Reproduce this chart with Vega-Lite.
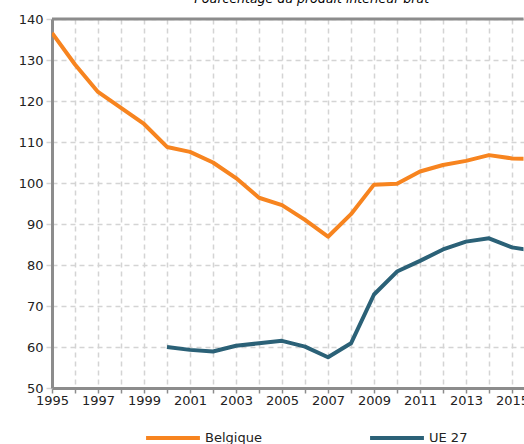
{
  "$schema": "https://vega.github.io/schema/vega-lite/v6.json",
  "autosize": {"type": "none"},
  "padding": {"left": 52, "top": 19, "right": 0, "bottom": 56},
  "width": 471.5,
  "height": 369,
  "title": {
    "text": "Pourcentage du produit intérieur brut",
    "font": "DejaVu Sans",
    "fontStyle": "italic",
    "fontWeight": "normal",
    "fontSize": 12.5,
    "color": "#000000",
    "anchor": "middle",
    "dx": 24,
    "dy": 4.5,
    "offset": 2,
    "baseline": "alphabetic"
  },
  "config": {
    "view": {"stroke": null},
    "font": "DejaVu Sans"
  },
  "data": {
    "values": [
      {"year": 1995, "series": "Belgique", "value": 136.6},
      {"year": 1996, "series": "Belgique", "value": 128.9},
      {"year": 1997, "series": "Belgique", "value": 122.2},
      {"year": 1998, "series": "Belgique", "value": 118.3},
      {"year": 1999, "series": "Belgique", "value": 114.4},
      {"year": 2000, "series": "Belgique", "value": 108.8},
      {"year": 2001, "series": "Belgique", "value": 107.6},
      {"year": 2002, "series": "Belgique", "value": 105.0},
      {"year": 2003, "series": "Belgique", "value": 101.2},
      {"year": 2004, "series": "Belgique", "value": 96.4},
      {"year": 2005, "series": "Belgique", "value": 94.6},
      {"year": 2006, "series": "Belgique", "value": 91.0},
      {"year": 2007, "series": "Belgique", "value": 86.9},
      {"year": 2008, "series": "Belgique", "value": 92.4},
      {"year": 2009, "series": "Belgique", "value": 99.6},
      {"year": 2010, "series": "Belgique", "value": 99.8},
      {"year": 2011, "series": "Belgique", "value": 102.8},
      {"year": 2012, "series": "Belgique", "value": 104.4},
      {"year": 2013, "series": "Belgique", "value": 105.4},
      {"year": 2014, "series": "Belgique", "value": 106.8},
      {"year": 2015, "series": "Belgique", "value": 106.0},
      {"year": 2016, "series": "Belgique", "value": 105.8},
      {"year": 2000, "series": "UE 27", "value": 60.0},
      {"year": 2001, "series": "UE 27", "value": 59.3},
      {"year": 2002, "series": "UE 27", "value": 58.9},
      {"year": 2003, "series": "UE 27", "value": 60.3},
      {"year": 2004, "series": "UE 27", "value": 60.9},
      {"year": 2005, "series": "UE 27", "value": 61.5},
      {"year": 2006, "series": "UE 27", "value": 60.1},
      {"year": 2007, "series": "UE 27", "value": 57.5},
      {"year": 2008, "series": "UE 27", "value": 60.9},
      {"year": 2009, "series": "UE 27", "value": 72.8},
      {"year": 2010, "series": "UE 27", "value": 78.4},
      {"year": 2011, "series": "UE 27", "value": 81.0},
      {"year": 2012, "series": "UE 27", "value": 83.8},
      {"year": 2013, "series": "UE 27", "value": 85.7},
      {"year": 2014, "series": "UE 27", "value": 86.5},
      {"year": 2015, "series": "UE 27", "value": 84.3},
      {"year": 2016, "series": "UE 27", "value": 83.4}
    ]
  },
  "layer": [
    {
      "mark": {"type": "line", "strokeWidth": 4, "clip": true, "strokeJoin": "round"},
      "encoding": {
        "x": {
          "field": "year",
          "type": "quantitative",
          "scale": {"domain": [1995, 2015.5], "nice": false, "zero": false},
          "axis": {
            "title": null,
            "values": [1995, 1996, 1997, 1998, 1999, 2000, 2001, 2002, 2003, 2004, 2005, 2006, 2007, 2008, 2009, 2010, 2011, 2012, 2013, 2014, 2015],
            "labelExpr": "datum.value % 2 == 1 ? datum.label : ''",
            "format": "d",
            "labelFont": "DejaVu Sans",
            "labelFontSize": 13,
            "labelColor": "#222222",
            "labelPadding": 1,
            "labelFlush": false,
            "labelOverlap": false,
            "domainColor": "#8c8c8c",
            "domainWidth": 3,
            "tickColor": "#8c8c8c",
            "tickWidth": 1.5,
            "tickSize": 5,
            "grid": true,
            "gridColor": "#d4d4d4",
            "gridDash": [5, 4],
            "gridWidth": 1.5
          }
        },
        "y": {
          "field": "value",
          "type": "quantitative",
          "scale": {"domain": [50, 140], "nice": false, "zero": false},
          "axis": {
            "title": null,
            "values": [50, 60, 70, 80, 90, 100, 110, 120, 130, 140],
            "labelFont": "DejaVu Sans",
            "labelFontSize": 13,
            "labelColor": "#222222",
            "labelPadding": 3,
            "domainColor": "#8c8c8c",
            "domainWidth": 3,
            "tickColor": "#d4d4d4",
            "tickWidth": 1.5,
            "tickSize": 6,
            "grid": true,
            "gridColor": "#d4d4d4",
            "gridDash": [5, 4],
            "gridWidth": 1.5
          }
        },
        "color": {
          "field": "series",
          "type": "nominal",
          "scale": {"domain": ["Belgique", "UE 27"], "range": ["#f7841f", "#2b6177"]},
          "legend": {
            "title": null,
            "orient": "none",
            "legendX": 92,
            "legendY": 390,
            "direction": "horizontal",
            "columns": 2,
            "columnPadding": 100,
            "symbolType": "stroke",
            "symbolSize": 2900,
            "symbolStrokeWidth": 4,
            "labelFont": "DejaVu Sans",
            "labelFontSize": 13,
            "labelColor": "#222222",
            "labelOffset": 3
          }
        }
      }
    },
    {
      "data": {"values": [{"v": 140}]},
      "mark": {"type": "rule", "color": "#8c8c8c", "strokeWidth": 3},
      "encoding": {"y": {"field": "v", "type": "quantitative"}}
    }
  ]
}
